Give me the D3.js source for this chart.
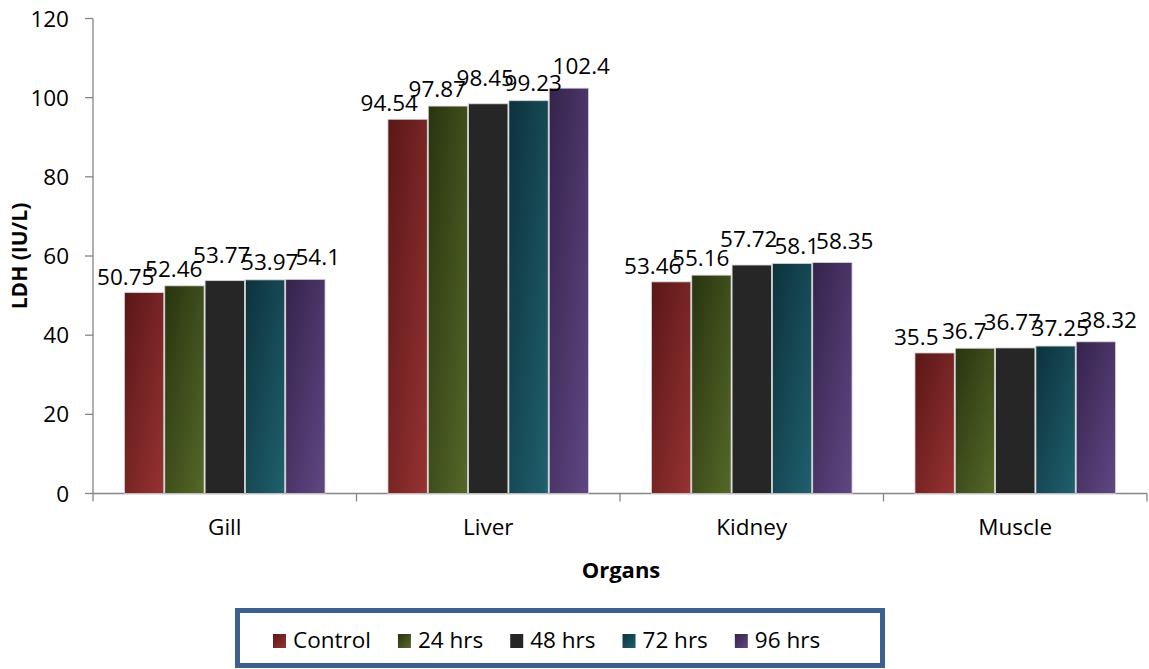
<!DOCTYPE html>
<html>
<head>
<meta charset="utf-8">
<script src="https://cdn.jsdelivr.net/npm/d3@7"></script>
<style>
html,body{margin:0;padding:0;background:#fff;}
svg{display:block;font-family:"Open Sans",sans-serif;}
</style>
</head>
<body>
<svg id="chart" width="1149" height="669"></svg>
<script>
const categories = ["Gill", "Liver", "Kidney", "Muscle"];
const seriesNames = ["Control", "24 hrs", "48 hrs", "72 hrs", "96 hrs"];
const control = [50.75, 94.54, 53.46, 35.5];
const hrs24 = [52.46, 97.87, 55.16, 36.7];
const hrs48 = [53.77, 98.45, 57.72, 36.77];
const hrs72 = [53.97, 99.23, 58.1, 37.25];
const hrs96 = [54.1, 102.4, 58.35, 38.32];
const yTicks = [0, 20, 40, 60, 80, 100, 120];
const yTitle = "LDH (IU/L)";
const xTitle = "Organs";

const seriesValues = [control, hrs24, hrs48, hrs72, hrs96];
const colorStops = [
  ["#5a1717", "#973232"],
  ["#283410", "#566828"],
  ["#262626", "#262626"],
  ["#0c323c", "#20606e"],
  ["#35234b", "#604784"]
];
const labelLift = [8, 9, 18, 10, 14];

const svg = d3.select("#chart");
const plotLeft = 93, plotRight = 1147, plotTop = 18.5, plotBottom = 493.5;

const defs = svg.append("defs");
seriesNames.forEach((s, i) => {
  const g = defs.append("linearGradient").attr("id", "grad" + i)
    .attr("x1", 0).attr("y1", 0).attr("x2", 1).attr("y2", 1);
  g.append("stop").attr("offset", "0%").attr("stop-color", colorStops[i][0]);
  g.append("stop").attr("offset", "100%").attr("stop-color", colorStops[i][1]);
});

const x0 = d3.scaleBand().domain(categories).range([plotLeft, plotRight])
  .paddingInner(0.235).paddingOuter(0.1175);
const x1 = d3.scaleBand().domain(seriesNames).range([0, x0.bandwidth()]);
const y = d3.scaleLinear().domain([0, 120]).range([plotBottom, plotTop]);

// axes
const axisColor = "#868686";
svg.append("line").attr("x1", plotLeft).attr("x2", plotLeft).attr("y1", plotTop).attr("y2", plotBottom)
  .attr("stroke", axisColor).attr("stroke-width", 1.3);
yTicks.forEach(t => {
  svg.append("line").attr("x1", plotLeft - 8).attr("x2", plotLeft).attr("y1", y(t)).attr("y2", y(t))
    .attr("stroke", axisColor).attr("stroke-width", 1.3);
  svg.append("text").attr("x", 69).attr("y", y(t) + 8).attr("text-anchor", "end")
    .attr("font-size", 22.5).attr("fill", "#000").text(t);
});
svg.append("line").attr("x1", plotLeft).attr("x2", plotRight).attr("y1", plotBottom).attr("y2", plotBottom)
  .attr("stroke", axisColor).attr("stroke-width", 1.3);
const step = x0.step();
for (let i = 0; i <= categories.length; i++) {
  const xx = plotLeft + i * step;
  svg.append("line").attr("x1", xx).attr("x2", xx).attr("y1", plotBottom).attr("y2", plotBottom + 8)
    .attr("stroke", axisColor).attr("stroke-width", 1.3);
}
categories.forEach(c => {
  svg.append("text").attr("x", x0(c) + x0.bandwidth() / 2).attr("y", 535)
    .attr("text-anchor", "middle").attr("font-size", 22.5).attr("fill", "#000").text(c);
});

// bars
categories.forEach((c, ci) => {
  seriesNames.forEach((s, si) => {
    const v = seriesValues[si][ci];
    svg.append("rect")
      .attr("x", x0(c) + x1(s) + 0.5)
      .attr("y", y(v))
      .attr("width", x1.bandwidth() - 1)
      .attr("height", plotBottom - y(v))
      .attr("fill", "url(#grad" + si + ")")
      .attr("stroke", "#d4d4d4").attr("stroke-width", 0.8);
  });
});
// labels
categories.forEach((c, ci) => {
  const center = x0(c) + x0.bandwidth() / 2;
  seriesNames.forEach((s, si) => {
    const v = seriesValues[si][ci];
    svg.append("text")
      .attr("x", center + (si - 2) * 48 - 3)
      .attr("y", y(v) - labelLift[si])
      .attr("text-anchor", "middle").attr("font-size", 22.5).attr("fill", "#000")
      .text(v);
  });
});

// titles
svg.append("text").attr("transform", `translate(27,${(plotTop + plotBottom) / 2}) rotate(-90)`)
  .attr("text-anchor", "middle").attr("font-size", 21).attr("font-weight", "bold").text(yTitle);
svg.append("text").attr("x", 621).attr("y", 578).attr("text-anchor", "middle")
  .attr("font-size", 22).attr("font-weight", "bold").text(xTitle);

// legend
svg.append("rect").attr("x", 237.5).attr("y", 610.5).attr("width", 645).attr("height", 55)
  .attr("fill", "#fff").attr("stroke", "#3c5f8e").attr("stroke-width", 5);
let lx = 273;
seriesNames.forEach((s, si) => {
  svg.append("rect").attr("x", lx).attr("y", 634).attr("width", 13).attr("height", 14)
    .attr("fill", "url(#grad" + si + ")");
  const t = svg.append("text").attr("x", lx + 20).attr("y", 648).attr("font-size", 22.5)
    .attr("fill", "#000").text(s);
  lx += 20 + t.node().getComputedTextLength() + 27;
});
</script>
</body>
</html>
